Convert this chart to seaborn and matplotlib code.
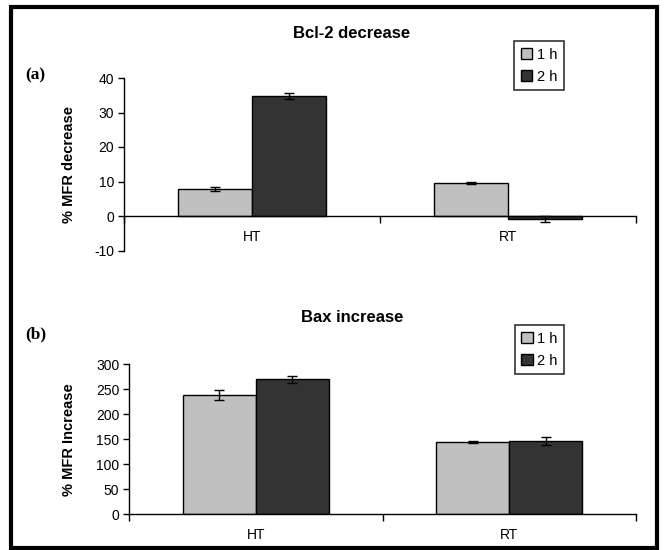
import pandas as pd
import seaborn as sns
import matplotlib.pyplot as plt
from matplotlib.patches import Rectangle

categories = ["HT", "RT"]
times = ["1 h", "2 h"]

# Bcl-2 decrease (%)
bcl_1h = [7.8, 9.6]
bcl_2h = [34.7, -0.9]
bcl_err_1h = [0.5, 0.3]
bcl_err_2h = [0.9, 0.8]

# Bax increase (%)
bax_1h = [238, 144]
bax_2h = [270, 147]
bax_err_1h = [10, 2]
bax_err_2h = [7, 8]

colors = ["#c0c0c0", "#333333"]

sns.set_style("white")
plt.rcParams["font.family"] = ["Liberation Sans", "DejaVu Sans"]
plt.rcParams["text.color"] = "black"
plt.rcParams["axes.labelcolor"] = "black"
plt.rcParams["xtick.color"] = "black"
plt.rcParams["ytick.color"] = "black"

fig = plt.figure(figsize=(6.65, 5.5), dpi=100)
fig.patch.set_facecolor("white")


def panel(rect, v1, v2, e1, e2, ylim, yticks, ylabel, title, title_y, letter, letter_y, leg_anchor):
    ax = fig.add_axes(rect)
    df = pd.DataFrame({
        "cat": categories * 2,
        "time": [times[0]] * 2 + [times[1]] * 2,
        "val": v1 + v2,
    })
    sns.barplot(data=df, x="cat", y="val", hue="time", palette=colors,
                width=0.575, edgecolor="black", linewidth=1.0, errorbar=None,
                saturation=1, ax=ax)
    # error bars at the end of each bar
    for cont, errs in zip(ax.containers, [e1, e2]):
        for bar, err in zip(cont, errs):
            xc = bar.get_x() + bar.get_width() / 2
            ax.errorbar(xc, bar.get_y() + bar.get_height(), yerr=err, fmt="none",
                        ecolor="black", elinewidth=1, capsize=3.5, capthick=1)
    ax.set_ylim(*ylim)
    ax.set_xlim(-0.5, 1.5)
    ax.set_yticks(yticks)
    ax.set_yticklabels([str(t) for t in yticks], fontsize=10)
    ax.set_xticks([0, 1])
    ax.set_xticklabels(categories, fontsize=10)
    ax.set_xticks([-0.5, 0.5, 1.5], minor=True)
    ax.tick_params(axis="x", which="major", length=0, pad=10)
    ax.tick_params(axis="x", which="minor", length=5, width=1, direction="out", bottom=True)
    ax.tick_params(axis="y", length=4, width=1, direction="out", left=True, pad=3)
    for s in ["top", "right"]:
        ax.spines[s].set_visible(False)
    ax.spines["bottom"].set_position(("data", 0))
    for s in ["left", "bottom"]:
        ax.spines[s].set_color("black")
        ax.spines[s].set_linewidth(1)
    ax.set_xlabel("")
    ax.set_ylabel(ylabel, fontsize=10.5, fontweight="bold")
    left_px = rect[0] * 665
    width_px = rect[2] * 665
    ax.yaxis.set_label_coords(-(left_px - 76) / width_px, 0.5)
    ax.legend(loc="upper left", bbox_to_anchor=leg_anchor, frameon=True, fancybox=False,
              edgecolor="black", fontsize=10.5, handlelength=0.8, handleheight=0.8,
              handletextpad=0.3, borderpad=0.45, labelspacing=0.55, borderaxespad=0)
    ax.get_legend().get_frame().set_linewidth(1.2)
    fig.text(352 / 665, 1 - title_y / 550, title, ha="center", va="center",
             fontsize=12, fontweight="bold")
    fig.text(25 / 665, 1 - letter_y / 550, letter, ha="left", va="center",
             fontsize=12.5, fontweight="bold", family=["Liberation Serif", "DejaVu Serif"])
    return ax


panel([124 / 665, 1 - 250.5 / 550, 512 / 665, 172.5 / 550],
      bcl_1h, bcl_2h, bcl_err_1h, bcl_err_2h,
      (-10, 40), [-10, 0, 10, 20, 30, 40], "% MFR decrease",
      "Bcl-2 decrease", 33, "(a)", 75, (0.762, 1.214))

panel([129 / 665, 1 - 514 / 550, 507 / 665, 149.7 / 550],
      bax_1h, bax_2h, bax_err_1h, bax_err_2h,
      (0, 300), [0, 50, 100, 150, 200, 250, 300], "% MFR Increase",
      "Bax increase", 318, "(b)", 334, (0.761, 1.2625))

fig.patches.append(Rectangle((11 / 665, 2 / 550), 646 / 665, 541 / 550,
                             transform=fig.transFigure, fill=False,
                             edgecolor="black", linewidth=3))

plt.savefig("out.png", dpi=100, facecolor="white")
